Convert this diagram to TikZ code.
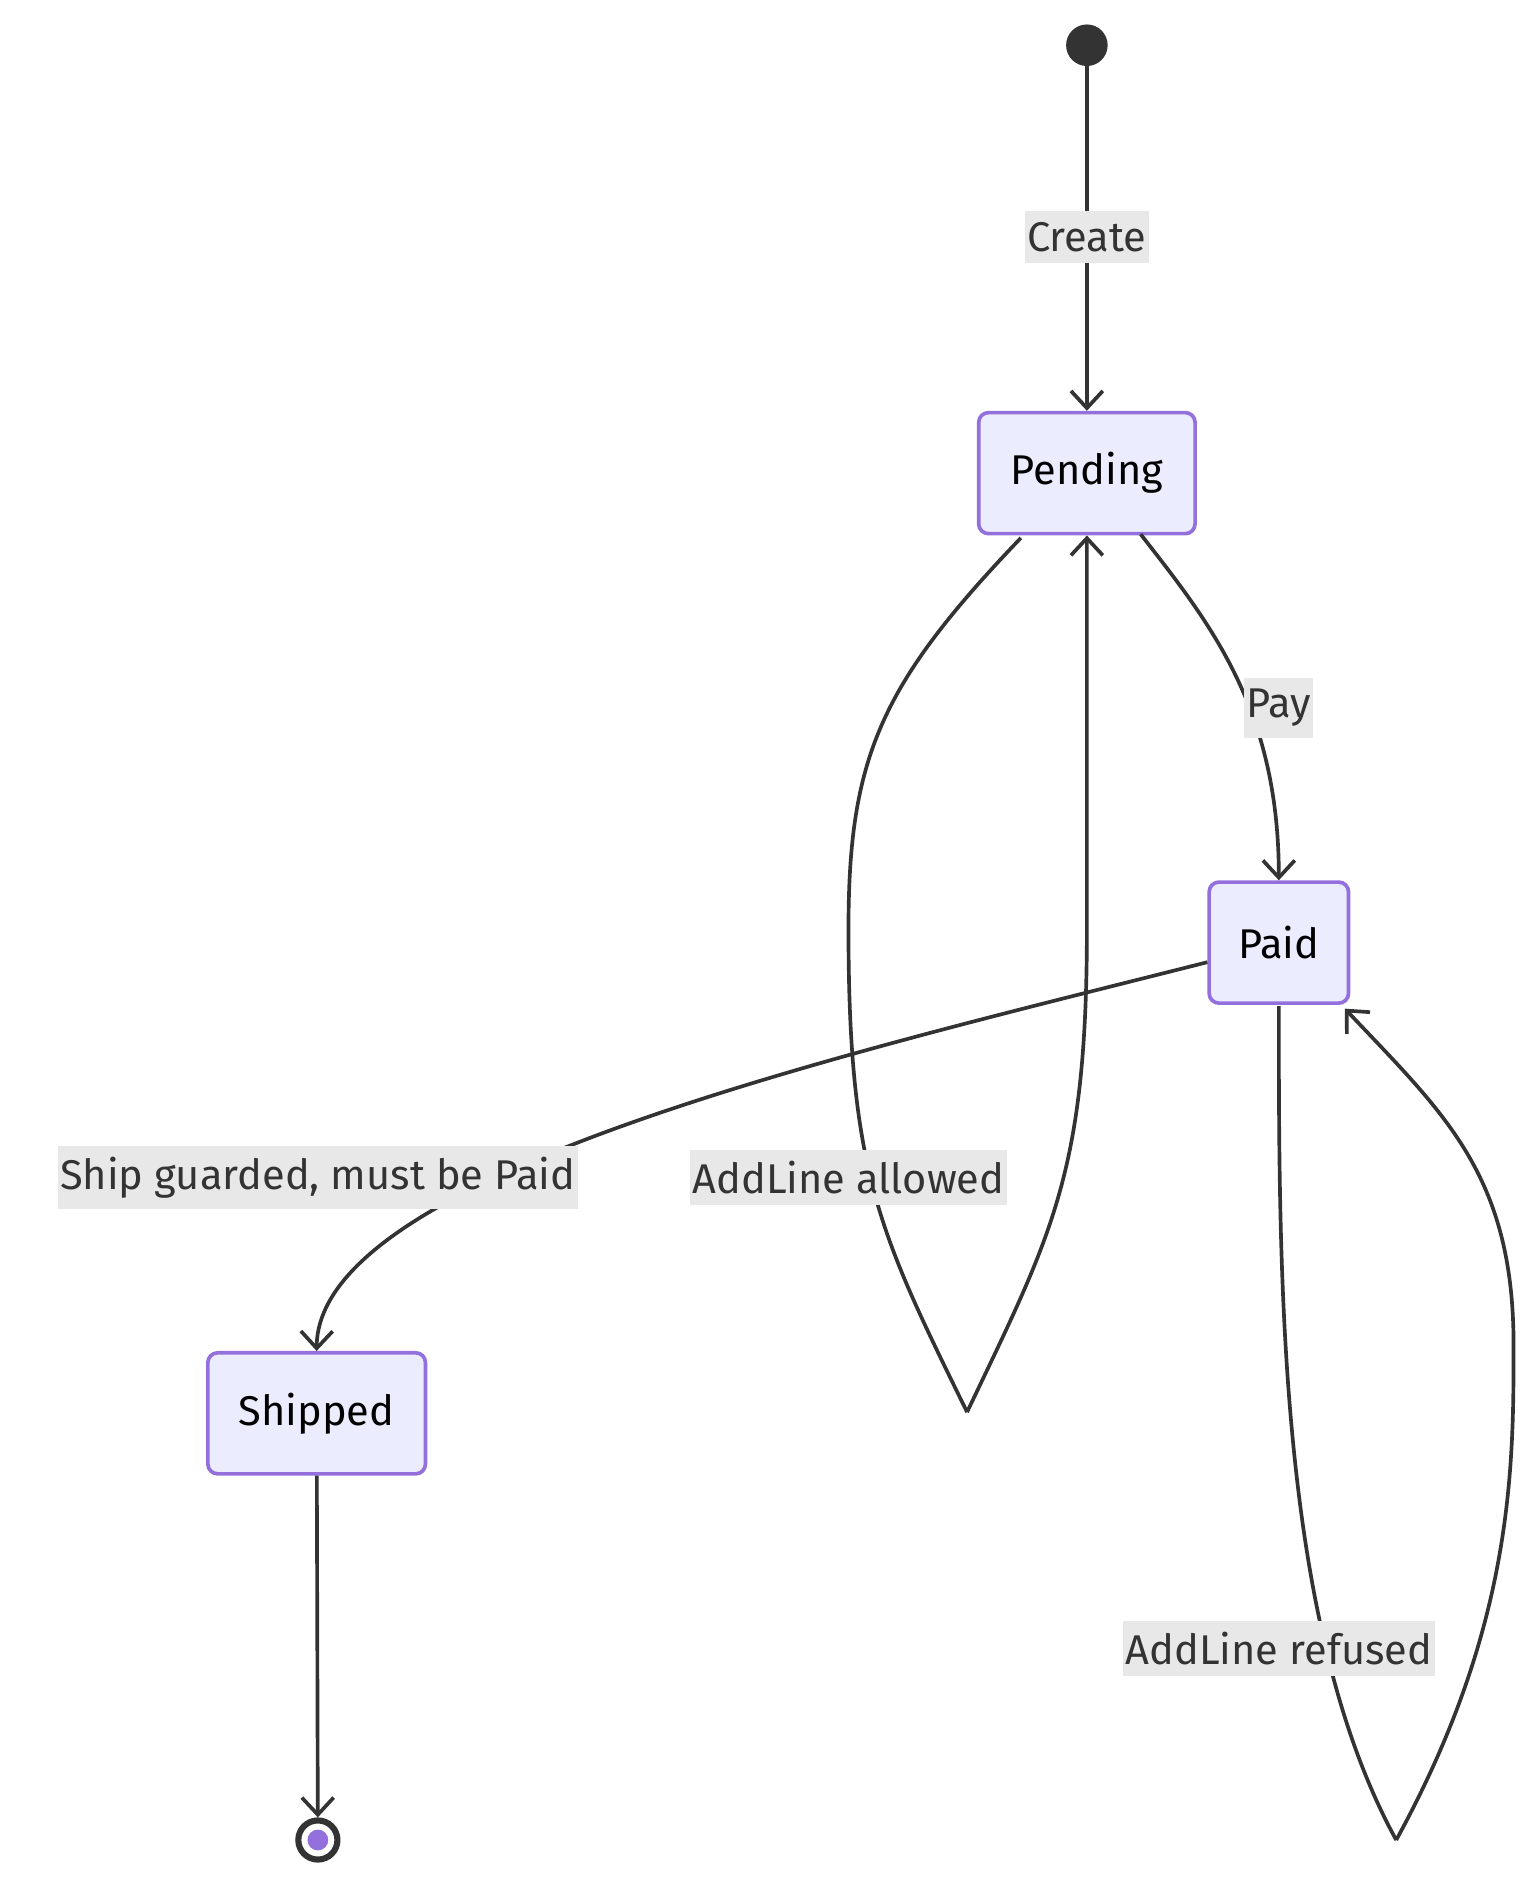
\documentclass[tikz,border=0pt]{standalone}
\usepackage{fontspec}
\setmainfont{Fira Sans}
\usetikzlibrary{arrows.meta,patterns}
\definecolor{st}{HTML}{9370DB}
\definecolor{sf}{HTML}{ECECFF}
\definecolor{ln}{HTML}{333333}
\definecolor{lb}{HTML}{E8E8E8}
\begin{document}
\begin{tikzpicture}[x=1pt,y=-1pt,
 state/.style={draw=st,fill=sf,line width=3pt,rounded corners=8pt,minimum height=99pt,font=\fontsize{34}{40}\selectfont},
 lab/.style={fill=lb,text=ln,font=\fontsize{34}{40}\selectfont,inner xsep=2pt,inner ysep=9pt},
 e/.style={draw=ln,line width=3pt,-{Straight Barb[length=14pt,width=26pt,line width=3pt]}},
 f/.style={draw=ln,line width=3pt}]
\useasboundingbox (0,0) rectangle (1256,1541);
\node[circle,fill=ln,minimum size=34pt,inner sep=0] (s) at (889,37) {};
\node[state,minimum width=177pt] (pe) at (889,387) {Pending};
\node[state,minimum width=114pt] (pa) at (1046,771) {Paid};
\node[state,minimum width=178pt] (sh) at (259,1156) {Shipped};
\node[circle,draw=ln,line width=5pt,fill=white,minimum size=32pt,inner sep=0] (en) at (260,1505) {};
\node[circle,fill=st,minimum size=17pt,inner sep=0] at (en) {};
\draw[e] (s) -- (pe);
\draw[e] (933,437) .. controls (990,510) and (1046,580) .. (pa.north);
\draw[e] (pa.west|-0,787) .. controls (700,860) and (260,960) .. (sh.north);
\draw[e] (sh) -- (en);
\coordinate (c1) at (791,1155);
\coordinate (c2) at (1142,1505);
\draw[f] (835,440) .. controls (720,560) and (694,620) .. (694,760) .. controls (694,960) and (720,1010) .. (c1);
\draw[e] (c1) .. controls (860,1010) and (889,960) .. (889,760) -- (pe.south);
\draw[f] (1046,823) .. controls (1046,1050) and (1046,1330) .. (c2);
\draw[e] (c2) .. controls (1238,1330) and (1238,1200) .. (1238,1100) .. controls (1238,960) and (1180,910) .. (1100,825);
\node[lab] at (889,194) {Create};
\node[lab] at (1046,579) {Pay};
\node[lab] at (260,963) {Ship guarded, must be Paid};
\node[lab] at (694,963) {AddLine allowed};
\node[lab] at (1046,1348) {AddLine refused};
\end{tikzpicture}
\end{document}
